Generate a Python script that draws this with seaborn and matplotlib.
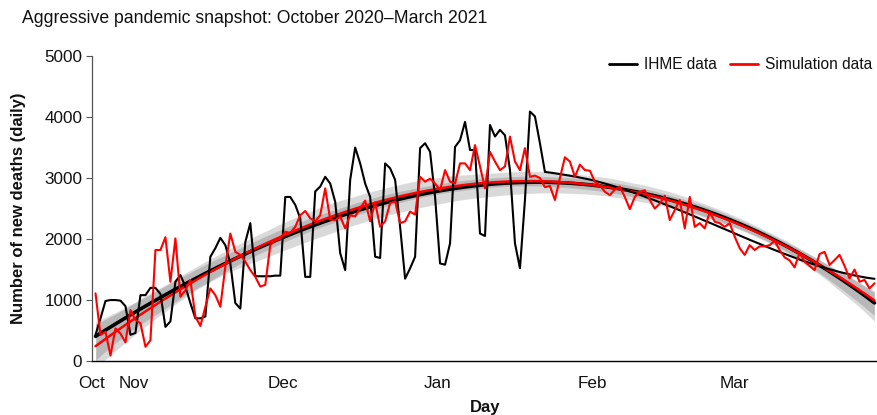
import numpy as np
import pandas as pd
import matplotlib
matplotlib.use("Agg")
import matplotlib.pyplot as plt
import seaborn as sns

# ---------------- data (daily new deaths) ----------------
ihme = [430, 700, 985, 1000, 1000, 990, 900, 430, 460, 1080,
        1080, 1200, 1200, 1100, 560, 650, 1300, 1410, 1220, 950,
        700, 700, 730, 1710, 1850, 2020, 1900, 1600, 950, 860,
        1950, 2260, 1390, 1390, 1390, 1390, 1400, 1400, 2690, 2690,
        2560, 2340, 1380, 1380, 2780, 2860, 3020, 2910, 2610, 1770,
        1490, 2970, 3500, 3240, 2910, 2690, 1710, 1690, 3240, 3160,
        2970, 2200, 1350, 1520, 1710, 3490, 3570, 3430, 2690, 1600,
        1580, 1930, 3510, 3620, 3920, 3460, 3460, 2090, 2050, 3870,
        3680, 3790, 3700, 3130, 1930, 1520, 2640, 4090, 4010, 3570,
        3100, 3090, 3078, 3065, 3052, 3038, 3024, 3008, 2991, 2975,
        2955, 2933, 2910, 2887, 2862, 2836, 2810, 2782, 2754, 2725,
        2695, 2665, 2634, 2602, 2570, 2538, 2505, 2472, 2438, 2404,
        2370, 2336, 2302, 2267, 2232, 2197, 2162, 2127, 2092, 2057,
        2022, 1988, 1954, 1920, 1886, 1853, 1820, 1788, 1756, 1725,
        1694, 1664, 1635, 1607, 1580, 1554, 1529, 1505, 1482, 1460,
        1440, 1421, 1403, 1387, 1372, 1359, 1348]

simulation = [1110, 426, 480, 90, 535, 450, 306, 836, 672, 620,
              235, 340, 1820, 1820, 2030, 1300, 2010, 1055, 1160, 1330,
              730, 575, 890, 1190, 1080, 890, 1550, 2090, 1790, 1740,
              1630, 1490, 1380, 1220, 1250, 1900, 1980, 2000, 2120, 2100,
              2200, 2390, 2460, 2340, 2290, 2390, 2830, 2320, 2310, 2370,
              2175, 2390, 2370, 2500, 2630, 2290, 2600, 2200, 2290, 2590,
              2620, 2260, 2290, 2450, 2400, 3020, 2940, 2990, 2910, 2800,
              3130, 2940, 2910, 3240, 3240, 3130, 3540, 3190, 2830, 3430,
              3270, 3130, 3190, 3680, 3270, 3130, 3490, 3020, 3040, 3000,
              2850, 2870, 2640, 3000, 3340, 3270, 3020, 3220, 3130, 3120,
              2940, 2880, 2775, 2720, 2810, 2860, 2690, 2490, 2690, 2775,
              2800, 2640, 2500, 2580, 2710, 2310, 2475, 2640, 2175, 2690,
              2200, 2260, 2175, 2440, 2285, 2260, 2200, 2260, 2040, 1850,
              1740, 1900, 1820, 1880, 1880, 1900, 1970, 1820, 1700, 1650,
              1535, 1775, 1630, 1560, 1490, 1755, 1790, 1575, 1655, 1740,
              1560, 1355, 1500, 1300, 1330, 1190, 1275]

month_labels = ["Oct", "Nov", "Dec", "Jan", "Feb", "Mar"]
month_days = [-0.7, 7.6, 37.5, 68.5, 99.6, 128.0]
y_ticks = [0, 1000, 2000, 3000, 4000, 5000]

day = np.arange(len(ihme))
df = pd.DataFrame({"day": day, "ihme": ihme, "sim": simulation})

# ---------------- style ----------------
sns.set_theme(style="white")
plt.rcParams["font.family"] = ["Liberation Sans", "DejaVu Sans"]
plt.rcParams["text.color"] = "#111111"
plt.rcParams["axes.labelcolor"] = "#111111"

fig = plt.figure(figsize=(8.78, 4.15), dpi=100)
ax = fig.add_axes([0.1048, 0.130, 0.8952, 0.735])

# fitted trends with confidence bands (grey)
sns.regplot(data=df, x="day", y="ihme", order=3, scatter=False, ci=99,
            color="black", seed=1, ax=ax,
            line_kws={"lw": 2.6, "alpha": 1, "zorder": 3})
ax.collections[-1].set_facecolor("black")
ax.collections[-1].set_alpha(0.15)
sns.regplot(data=df, x="day", y="sim", order=3, scatter=False, ci=99,
            color="black", seed=1, ax=ax,
            line_kws={"lw": 1.8, "alpha": 1, "color": "red", "zorder": 3.5})
ax.collections[-1].set_facecolor("black")
ax.collections[-1].set_alpha(0.15)

# raw series
sns.lineplot(data=df, x="day", y="ihme", color="black", lw=1.5,
             label="IHME data", ax=ax, zorder=4)
sns.lineplot(data=df, x="day", y="sim", color="red", lw=1.5,
             label="Simulation data", ax=ax, zorder=4)

ax.set_xlim(-0.7, 156.7)
ax.set_ylim(0, 5000)
ax.set_yticks(y_ticks)
ax.set_yticklabels([str(v) for v in y_ticks], fontsize=12.3)
ax.set_xticks(month_days)
ax.set_xticklabels(month_labels, fontsize=12.3)
ax.tick_params(axis="y", which="major", direction="out", length=4,
               width=0.8, color="#555555", labelcolor="#111111", pad=3, left=True)
ax.tick_params(axis="x", length=0, pad=11, labelcolor="#111111")

for s in ["top", "right"]:
    ax.spines[s].set_visible(False)
ax.spines["left"].set_color("#555555")
ax.spines["left"].set_linewidth(0.9)
ax.spines["bottom"].set_color("black")
ax.spines["bottom"].set_linewidth(1.0)

ax.set_xlabel("Day", fontsize=12, fontweight="bold", labelpad=6)
ax.set_ylabel("Number of new deaths (daily)", fontsize=12,
              fontweight="bold", labelpad=13)

leg = ax.legend(loc="upper right", bbox_to_anchor=(1.0, 1.017), ncol=2,
                frameon=False, fontsize=11.2, handlelength=1.8,
                columnspacing=0.8, handletextpad=0.45, borderaxespad=0)
for h in leg.get_lines():
    h.set_linewidth(2)

fig.text(0.025, 0.955, "Aggressive pandemic snapshot: October 2020\u2013March 2021",
         fontsize=12.7, ha="left", va="center")

fig.savefig("out.png", dpi=100)
